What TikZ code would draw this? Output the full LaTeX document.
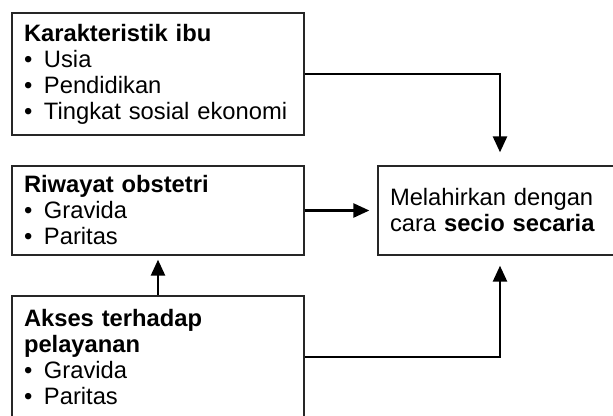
\documentclass[tikz,border=0pt]{standalone}
\usepackage{fontspec}
\setmainfont{Liberation Sans}
\usetikzlibrary{arrows.meta}
\newcommand{\itm}{\makebox[15pt][l]{•}}
\begin{document}
\begin{tikzpicture}[x=0.75pt,y=-0.75pt,
  box/.style={shape=rectangle, draw=black!85, line width=1pt, inner xsep=9pt, inner ysep=0pt, align=left, font=\fontsize{17.8}{19.5}\selectfont},
  link/.style={-{Triangle[length=12pt,width=10.5pt]}, line width=1.9pt, draw=black}]
\useasboundingbox (0,0) rectangle (613,415);
\clip (0,0) rectangle (613,415);
\node[box, minimum width=219pt, minimum height=91.5pt, text width=201pt] (K) at (158,74) {\textbf{Karakteristik ibu}\\ \itm Usia\\ \itm Pendidikan\\ \itm Tingkat sosial ekonomi};
\node[box, minimum width=219pt, minimum height=66.75pt, text width=201pt] (R) at (158,210.5) {\textbf{Riwayat obstetri}\\ \itm Gravida\\ \itm Paritas};
\node[box, minimum width=219pt, minimum height=91.5pt, text width=201pt] (A) at (158,357) {\textbf{Akses terhadap}\\ \textbf{pelayanan}\\ \itm Gravida\\ \itm Paritas};
\node[box, minimum width=183pt, minimum height=66.75pt, text width=165pt] (M) at (500,210.5) {Melahirkan dengan\\ cara \textbf{secio secaria}};
\draw[link, shorten >=9.75pt] (K.east) -| (M.north);
\draw[link, shorten >=6pt] (R.east) -- (M.west);
\draw[link, shorten >=7.5pt] (A.east) -| (M.south);
\draw[link, shorten >=3pt] (A.north) -- (R.south);
\end{tikzpicture}
\end{document}
